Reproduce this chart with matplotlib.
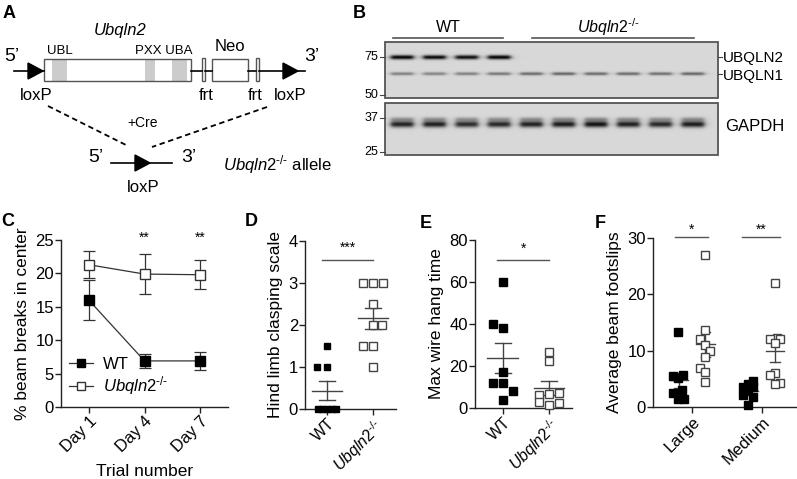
import numpy as np
import matplotlib
matplotlib.use("Agg")
from matplotlib import pyplot as plt
from matplotlib.patches import Rectangle, Polygon

plt.rcParams['font.family'] = ['Liberation Sans', 'DejaVu Sans']
plt.rcParams['mathtext.fontset'] = 'custom'
plt.rcParams['mathtext.rm'] = 'Liberation Sans'
plt.rcParams['mathtext.it'] = 'Liberation Sans:italic'
plt.rcParams['axes.linewidth'] = 1.0
plt.rcParams['axes.edgecolor'] = '#222222'

KO = r'$\mathit{Ubqln2}^{\text{-/-}}$'

# ---- data ----
# B: band intensities per lane (4 WT, 6 KO)
ubqln2_band = [1.0, 0.97, 0.95, 1.0, 0, 0, 0, 0, 0, 0]
ubqln1_band = [0.42, 0.40, 0.42, 0.46, 0.52, 0.55, 0.52, 0.52, 0.50, 0.55]
gapdh_band = [0.85, 0.86, 0.80, 0.82, 0.85, 0.88, 0.92, 0.86, 0.82, 0.88]
mw_markers = [75, 50, 37, 25]

# C: beam breaks
days = ['Day 1', 'Day 4', 'Day 7']
wt_breaks = [16.0, 6.9, 6.9]
wt_breaks_sem = [3.0, 1.0, 1.3]
ko_breaks = [21.3, 19.9, 19.8]
ko_breaks_sem = [2.0, 3.0, 2.2]

# D: hind limb clasping
wt_clasp = [1.5, 1, 1, 0, 0, 0, 0, 0]
ko_clasp = [3, 3, 3, 2.5, 2, 2, 1.5, 1.5, 1]

# E: wire hang
wt_hang = [60, 40, 38, 17, 12, 12, 8, 4]
ko_hang = [26.8, 22.4, 7.1, 6.6, 6.3, 3.0, 2.4, 1.3]

# F: footslips
beam_sizes = ['Large', 'Medium']
wt_large = [13.3, 5.5, 5.6, 5.2, 3.0, 2.4, 1.4, 1.4]
ko_large = [27, 13.6, 12, 11, 10, 8.9, 6.9, 6.2, 4.5]
wt_medium = [4.6, 4.1, 3.6, 3.5, 2.9, 2.2, 1.7, 0.4]
ko_medium = [22, 12.3, 12, 12, 11.3, 6, 5.6, 4.3, 4]

# horizontal scatter offsets (layout only)
wt_clasp_dx = [0, -0.22, 0, -0.2, -0.1, 0, 0.1, 0.2]
ko_clasp_dx = [-0.22, 0, 0.22, 0, 0, 0.2, -0.22, 0, 0]
wt_hang_dx = [0, -0.22, 0, 0, -0.22, 0, 0.22, 0]
ko_hang_dx = [0, 0, 0.22, 0, -0.22, -0.22, 0.22, 0]
wt_large_dx = [-0.2, -0.27, -0.13, -0.2, -0.14, -0.27, -0.2, -0.11]
ko_large_dx = [0.19, 0.19, 0.11, 0.19, 0.26, 0.19, 0.11, 0.19, 0.19]
wt_medium_dx = [-0.13, -0.2, -0.27, -0.13, -0.2, -0.27, -0.13, -0.2]
ko_medium_dx = [0.19, 0.21, 0.11, 0.26, 0.19, 0.19, 0.11, 0.26, 0.19]

W, H = 797, 479
fig = plt.figure(figsize=(W / 100, H / 100), dpi=100)

# ---------- overlay axes in pixel coords for A and B ----------
ax0 = fig.add_axes([0, 0, 1, 1])
ax0.set_xlim(0, W)
ax0.set_ylim(H, 0)
ax0.axis('off')

ax0.text(3, 13, 'A', fontsize=13, fontweight='bold', va='center')
ax0.text(353, 13, 'B', fontsize=13, fontweight='bold', va='center')
for lbl, x, y in [('C', 1, 222), ('D', 245, 221), ('E', 420, 223), ('F', 595, 223)]:
    ax0.text(x, y, lbl, fontsize=13, fontweight='bold', va='center')

# schematic
for xa, xb in [(14, 44), (191, 202), (205, 212), (248, 256), (259, 305)]:
    ax0.plot([xa, xb], [71, 71], color='k', lw=1.2)
ax0.add_patch(Polygon([(28, 63), (28, 79), (43, 71)], closed=True, color='k'))
ax0.add_patch(Polygon([(283, 63), (283, 79), (298, 71)], closed=True, color='k'))
ax0.add_patch(Rectangle((44, 59), 147, 22, facecolor='white', edgecolor='none'))
for x0, w in [(52, 15), (145, 10), (172, 15)]:
    ax0.add_patch(Rectangle((x0, 59), w, 22, facecolor='#cccccc', edgecolor='none'))
ax0.add_patch(Rectangle((44, 59), 147, 22, facecolor='none', edgecolor='#555555', lw=1))
ax0.add_patch(Rectangle((202, 58), 3, 23, facecolor='white', edgecolor='#555555', lw=1))
ax0.add_patch(Rectangle((256, 58), 3, 23, facecolor='white', edgecolor='#555555', lw=1))
ax0.add_patch(Rectangle((212, 59), 36, 22, facecolor='white', edgecolor='#555555', lw=1))
ax0.text(12, 56, '5’', fontsize=14, ha='center', va='center')
ax0.text(312, 56, '3’', fontsize=14, ha='center', va='center')
ax0.text(120, 30, 'Ubqln2', fontsize=12, style='italic', ha='center', va='center')
ax0.text(60, 51, 'UBL', fontsize=9.5, ha='center', va='center')
ax0.text(164, 51, 'PXX UBA', fontsize=9.5, ha='center', va='center')
ax0.text(230, 46, 'Neo', fontsize=12, ha='center', va='center')
for lbl, x in [('loxP', 36), ('frt', 206), ('frt', 255), ('loxP', 290)]:
    ax0.text(x, 95, lbl, fontsize=12, ha='center', va='center')
ax0.plot([48, 128], [106, 146], color='k', lw=1.3, ls=(0, (3, 2)))
ax0.plot([267, 152], [107, 147], color='k', lw=1.3, ls=(0, (3, 2)))
ax0.text(143, 123, '+Cre', fontsize=10, ha='center', va='center')
ax0.plot([111, 172], [163, 163], color='k', lw=1.2)
ax0.add_patch(Polygon([(135, 155), (135, 171), (150, 163)], closed=True, color='k'))
ax0.text(96, 157, '5’', fontsize=14, ha='center', va='center')
ax0.text(189, 157, '3’', fontsize=14, ha='center', va='center')
ax0.text(143, 187, 'loxP', fontsize=12, ha='center', va='center')
ax0.text(223, 165, KO + ' allele', fontsize=12, ha='left', va='center')

# western blot
lane_x = 402 + 32.3 * np.arange(10)
bx0, bx1 = 385, 718


def blot(y0, y1, bands):
    xs = np.arange(bx0, bx1, 0.5)
    ys = np.arange(y0, y1, 0.5)
    X, Y = np.meshgrid(xs, ys)
    img = np.full(X.shape, 0.845)
    for yc, sig, vals in bands:
        for xc, v in zip(lane_x, vals):
            prof = 1 / (1 + ((X - xc) / 11.5) ** 8) * np.exp(-0.5 * ((Y - yc) / sig) ** 2)
            img -= 0.85 * v * prof
    ax0.imshow(np.clip(img, 0, 1), cmap='gray', vmin=0, vmax=1,
               extent=(bx0, bx1, y1, y0), aspect='auto', interpolation='bilinear')
    ax0.add_patch(Rectangle((bx0, y0), bx1 - bx0, y1 - y0, facecolor='none',
                            edgecolor='#555555', lw=1.3))


blot(42, 98, [(57, 1.5, ubqln2_band), (73.5, 1.1, ubqln1_band)])
blot(103, 155, [(124, 2.2, gapdh_band), (119, 1.5, [v * 0.35 for v in gapdh_band])])
ax0.set_xlim(0, W)
ax0.set_ylim(H, 0)

for mw, y in zip(mw_markers, [57, 95, 118, 152]):
    ax0.text(378, y, str(mw), fontsize=9, ha='right', va='center')
    ax0.plot([380, 385], [y, y], color='#444444', lw=0.8)
for y in [57, 74]:
    ax0.plot([718, 722], [y, y], color='#444444', lw=0.8)
ax0.text(723, 58, 'UBQLN2', fontsize=11, ha='left', va='center')
ax0.text(723, 76, 'UBQLN1', fontsize=11, ha='left', va='center')
ax0.text(725, 126, 'GAPDH', fontsize=12, ha='left', va='center')
ax0.plot([393, 503], [38, 38], color='#555555', lw=1.2)
ax0.plot([532, 694], [38, 38], color='#555555', lw=1.2)
ax0.text(448, 27, 'WT', fontsize=11.5, ha='center', va='center')
ax0.text(608, 27, KO, fontsize=11.5, ha='center', va='center')


def pax(left, right, top, bottom):
    return fig.add_axes([left / W, 1 - bottom / H, (right - left) / W, (bottom - top) / H])


def style(ax):
    for s in ['top', 'right']:
        ax.spines[s].set_visible(False)
    ax.tick_params(direction='out', length=4, width=1, labelsize=12, color='#222222', pad=1)
    ax.patch.set_alpha(0)


def rot_labels(ax, labels, size=12):
    ax.set_xticklabels(labels, rotation=45, ha='right', rotation_mode='anchor', fontsize=size)


def mean_sem(ax, x, vals, half=0.33, cap=0.17):
    v = np.array(vals, float)
    m = v.mean()
    s = v.std(ddof=1) / np.sqrt(len(v))
    ax.plot([x - half, x + half], [m, m], color='#444444', lw=1, zorder=4)
    ax.plot([x, x], [m - s, m + s], color='#444444', lw=1, zorder=4)
    for yy in (m - s, m + s):
        ax.plot([x - cap, x + cap], [yy, yy], color='#444444', lw=1, zorder=4)


def sig(ax, x0, x1, y, stars, ty):
    ax.plot([x0, x1], [y, y], color='#555555', lw=1, clip_on=False)
    ax.text((x0 + x1) / 2, ty, stars, fontsize=10, ha='center', va='center')


filled = dict(marker='s', ms=6, mfc='k', mec='k', ls='none', clip_on=False, zorder=5)
opened = dict(marker='s', ms=6, mfc='white', mec='#444444', mew=1, ls='none', clip_on=False, zorder=5)

# ---------- C ----------
axc = pax(61, 228, 240, 407)
style(axc)
xd = np.arange(len(days))
l1 = axc.errorbar(xd, wt_breaks, yerr=wt_breaks_sem, color='#333333', lw=0.9, capsize=4.5,
                  marker='s', ms=7, mfc='k', mec='k', label='WT', elinewidth=0.9, capthick=0.9)
l2 = axc.errorbar(xd, ko_breaks, yerr=ko_breaks_sem, color='#333333', lw=0.9, capsize=4.5,
                  marker='s', ms=7, mfc='white', mec='#333333', label=KO, elinewidth=0.9, capthick=0.9)
axc.set_xlim(-0.5, 2.5)
axc.set_ylim(0, 25)
axc.set_yticks([0, 5, 10, 15, 20, 25])
axc.set_xticks(xd)
rot_labels(axc, days)
axc.set_ylabel('% beam breaks in center', fontsize=12.5, labelpad=4)
axc.set_xlabel('Trial number', fontsize=12.5, labelpad=6)
for x in [1, 2]:
    axc.text(x, 25.4, '**', fontsize=10, ha='center', va='center')
axc.legend(handles=[l1.lines[0], l2.lines[0]], labels=['WT', KO], loc='lower left',
           bbox_to_anchor=(0.05, 0.06), frameon=False, markerscale=0.85,
           fontsize=12, handlelength=1.4, handletextpad=0.6, labelspacing=0.15, borderpad=0,
           borderaxespad=0)

# ---------- D ----------
axd = pax(305, 396, 241, 409)
style(axd)
axd.plot(np.zeros(len(wt_clasp)) + wt_clasp_dx, wt_clasp, **dict(filled, ms=5))
axd.plot(np.ones(len(ko_clasp)) + ko_clasp_dx, ko_clasp, **dict(opened, ms=5.5))
mean_sem(axd, 0, wt_clasp)
mean_sem(axd, 1, ko_clasp)
axd.set_xlim(-0.48, 1.5)
axd.set_ylim(0, 4)
axd.set_yticks([0, 1, 2, 3, 4])
axd.set_xticks([0, 1])
rot_labels(axd, ['WT', KO], 11.5)
axd.set_ylabel('Hind limb clasping scale', fontsize=12.5, labelpad=4)
sig(axd, -0.1, 1.0, 3.55, '***', 3.85)

# ---------- E ----------
axe = pax(475, 572, 240, 408)
style(axe)
axe.plot(np.zeros(len(wt_hang)) + wt_hang_dx, wt_hang, **dict(filled, ms=5.5))
axe.plot(np.ones(len(ko_hang)) + ko_hang_dx, ko_hang, **dict(opened, ms=6))
mean_sem(axe, 0, wt_hang)
mean_sem(axe, 1, ko_hang)
axe.set_xlim(-0.6, 1.5)
axe.set_ylim(0, 80)
axe.set_yticks([0, 20, 40, 60, 80])
axe.set_xticks([0, 1])
rot_labels(axe, ['WT', KO], 11.5)
axe.set_ylabel('Max wire hang time', fontsize=12.5, labelpad=4)
sig(axe, -0.12, 1.0, 70.5, '*', 76)

# ---------- F ----------
axf = pax(653, 797, 238, 407)
style(axf)
axf.plot(np.zeros(len(wt_large)) + wt_large_dx, wt_large, **dict(filled, ms=5.5))
axf.plot(np.zeros(len(ko_large)) + ko_large_dx, ko_large, **dict(opened, ms=5.5))
axf.plot(np.ones(len(wt_medium)) + wt_medium_dx, wt_medium, **dict(filled, ms=5.5))
axf.plot(np.ones(len(ko_medium)) + ko_medium_dx, ko_medium, **dict(opened, ms=5.5))
mean_sem(axf, -0.19, wt_large, 0.13, 0.07)
mean_sem(axf, 0.19, ko_large, 0.13, 0.07)
mean_sem(axf, 0.81, wt_medium, 0.13, 0.07)
mean_sem(axf, 1.19, ko_medium, 0.13, 0.07)
axf.set_xlim(-0.56, 1.5)
axf.set_ylim(0, 30)
axf.set_yticks([0, 10, 20, 30])
axf.set_xticks([0, 1])
rot_labels(axf, beam_sizes)
axf.set_ylabel('Average beam footslips', fontsize=12.5, labelpad=4)
sig(axf, -0.24, 0.23, 30.2, '*', 31.4)
sig(axf, 0.71, 1.26, 30.2, '**', 31.4)

fig.savefig('out.png', dpi=100)
